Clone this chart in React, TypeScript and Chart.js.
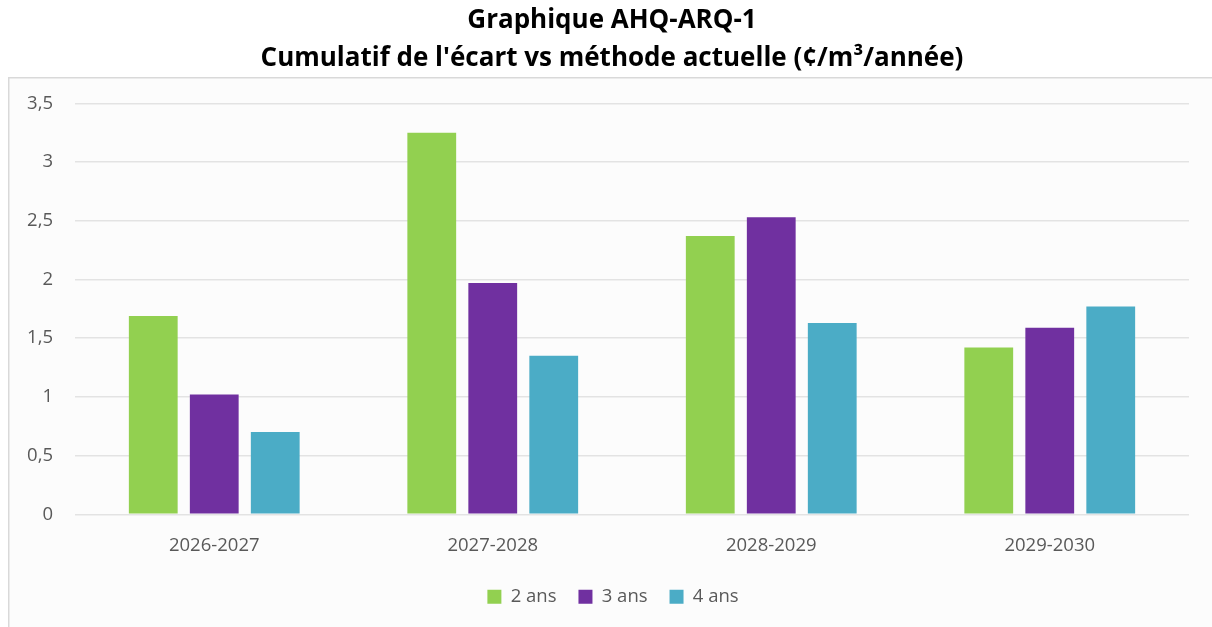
import React, { useEffect, useRef } from "react";
import { Chart, registerables } from "chart.js";

Chart.register(...registerables);

const categories = ["2026-2027", "2027-2028", "2028-2029", "2029-2030"];
const seriesLabels = ["2 ans", "3 ans", "4 ans"];
const values2ans = [1.69, 3.25, 2.37, 1.42];
const values3ans = [1.02, 1.97, 2.53, 1.59];
const values4ans = [0.7, 1.35, 1.63, 1.77];
const seriesColors = ["#92d050", "#7030a0", "#4bacc6"];
const titleLines = [
  "Graphique AHQ-ARQ-1",
  "Cumulatif de l'écart vs méthode actuelle (¢/m³/année)",
];
const yMin = 0;
const yMax = 3.5;
const yStep = 0.5;

const framePlugin = {
  id: "frame",
  afterLayout(chart: any) {
    // centre title and legend on the whole frame rather than the plot area
    const w = chart.width;
    if (chart.titleBlock) {
      chart.titleBlock.left = 0;
      chart.titleBlock.right = w + 12;
      chart.titleBlock.width = w + 12;
    }
    if (chart.legend) {
      chart.legend.left = 0;
      chart.legend.right = w + 14;
      chart.legend.width = w + 14;
    }
  },
  beforeDraw(chart: any) {
    const { ctx, width, height } = chart;
    ctx.save();
    ctx.fillStyle = "#ffffff";
    ctx.fillRect(0, 0, width, height);
    ctx.fillStyle = "#fcfcfc";
    ctx.fillRect(8, 77, width - 8, height - 77);
    ctx.strokeStyle = "#d9d9d9";
    ctx.lineWidth = 1.5;
    ctx.beginPath();
    ctx.moveTo(8.75, height);
    ctx.lineTo(8.75, 77.75);
    ctx.lineTo(width, 77.75);
    ctx.stroke();
    ctx.restore();
  },
};

export default function App() {
  const canvasRef = useRef<HTMLCanvasElement | null>(null);

  useEffect(() => {
    if (!canvasRef.current) return;
    const tickFont = { family: "'Open Sans', sans-serif", size: 18.5 };
    const chart = new Chart(canvasRef.current, {
      type: "bar",
      data: {
        labels: categories,
        datasets: [values2ans, values3ans, values4ans].map((vals, i) => ({
          label: seriesLabels[i],
          data: vals,
          backgroundColor: seriesColors[i],
          borderWidth: 0,
          categoryPercentage: 0.657,
          barPercentage: 0.8,
        })),
      },
      options: {
        animation: false,
        responsive: false,
        maintainAspectRatio: false,
        layout: { padding: { left: 0, right: 23, top: 0, bottom: 11 } },
        plugins: {
          title: {
            display: true,
            text: titleLines,
            color: "#000000",
            font: {
              family: "'Open Sans', sans-serif",
              size: 26,
              weight: "bold",
              lineHeight: 1.45,
            },
            padding: { top: 2, bottom: 26 },
          },
          legend: {
            display: true,
            position: "bottom",
            labels: {
              boxWidth: 14,
              boxHeight: 14,
              padding: 22,
              color: "#595959",
              font: tickFont,
            },
          },
          tooltip: { enabled: false },
        },
        scales: {
          x: {
            grid: { display: false },
            border: { display: false },
            ticks: { color: "#595959", font: tickFont, padding: 12 },
            afterFit: (scale: any) => {
              scale.height -= 3;
            },
          },
          y: {
            min: yMin,
            max: yMax,
            border: { display: false },
            grid: { color: "#e3e3e3", lineWidth: 1.5, drawTicks: false },
            ticks: {
              stepSize: yStep,
              color: "#595959",
              font: tickFont,
              padding: 22,
              callback: (v: any) => String(v).replace(".", ","),
            },
            afterFit: (scale: any) => {
              scale.width = 75;
            },
          },
        },
      },
      plugins: [framePlugin],
    });
    return () => chart.destroy();
  }, []);

  return (
    <div style={{ position: "absolute", left: 0, top: 0, width: 1212, height: 627, background: "#fff" }}>
      <canvas ref={canvasRef} width={1212} height={627} style={{ width: 1212, height: 627, display: "block" }} />
    </div>
  );
}
